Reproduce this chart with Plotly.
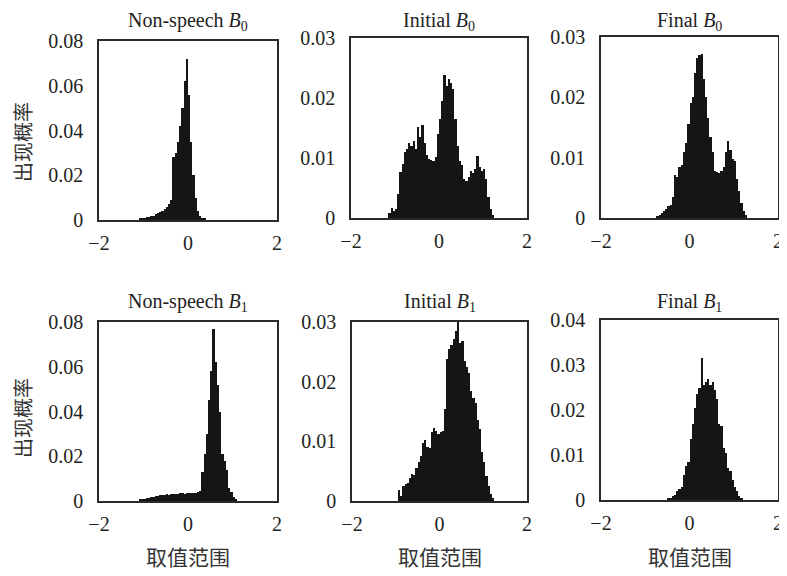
import plotly.graph_objects as go

BIN_WIDTH = 0.05

# Each panel: first bin left edge + probability per 0.05-wide bin
ns_b0_start = -1.10
ns_b0 = [0.0005, 0.0008, 0.001, 0.0012, 0.0015, 0.0018, 0.002, 0.0025, 0.003, 0.0035,
         0.004, 0.005, 0.006, 0.007, 0.009, 0.028, 0.030, 0.035, 0.042, 0.050,
         0.062, 0.072, 0.056, 0.035, 0.020, 0.010, 0.004, 0.002, 0.001, 0.0005]

ini_b0_start = -1.15
ini_b0 = [0.0008, 0.0017, 0.0012, 0.0015, 0.004, 0.0077, 0.009, 0.011, 0.0115, 0.0125,
          0.012, 0.0128, 0.0115, 0.0152, 0.0135, 0.0155, 0.0125, 0.0105, 0.0098, 0.0097,
          0.0095, 0.0102, 0.014, 0.0165, 0.0195, 0.0238, 0.022, 0.0232, 0.0225, 0.0215,
          0.0165, 0.012, 0.0095, 0.0088, 0.0065, 0.0062, 0.0068, 0.0078, 0.0075, 0.0082,
          0.0103, 0.0085, 0.0078, 0.0082, 0.0065, 0.0035, 0.0015, 0.0005]

fin_b0_start = -0.75
fin_b0 = [0.0003, 0.0005, 0.0008, 0.0012, 0.0015, 0.002, 0.0022, 0.0035, 0.0072, 0.0068,
          0.0085, 0.0088, 0.011, 0.0125, 0.0155, 0.019, 0.020, 0.024, 0.0265, 0.027,
          0.0272, 0.023, 0.020, 0.0165, 0.0135, 0.011, 0.0078, 0.0076, 0.0075, 0.0078,
          0.0085, 0.011, 0.0128, 0.0112, 0.0098, 0.0095, 0.0065, 0.0045, 0.0025, 0.0012,
          0.0005]

ns_b1_start = -1.10
ns_b1 = [0.0005, 0.0008, 0.001, 0.0012, 0.0015, 0.0018, 0.002, 0.0022, 0.0024, 0.0026,
         0.0025, 0.0028, 0.003, 0.0028, 0.0031, 0.0032, 0.0033, 0.0031, 0.0034, 0.0035,
         0.0033, 0.0036, 0.0035, 0.0037, 0.0036, 0.0038, 0.004, 0.0045, 0.013, 0.021,
         0.030, 0.045, 0.058, 0.077, 0.062, 0.052, 0.040, 0.021, 0.018, 0.014,
         0.006, 0.004, 0.002, 0.001]

ini_b1_start = -0.95
ini_b1 = [0.0018, 0.0008, 0.0025, 0.0028, 0.003, 0.0038, 0.0045, 0.0044, 0.0055, 0.0065,
          0.0075, 0.0098, 0.0102, 0.009, 0.0088, 0.0115, 0.0122, 0.0118, 0.0112, 0.0115,
          0.0118, 0.0155, 0.0238, 0.0255, 0.0262, 0.0272, 0.0285, 0.0300, 0.0265, 0.0268,
          0.0235, 0.0225, 0.0215, 0.0185, 0.0172, 0.0165, 0.0135, 0.012, 0.0082, 0.0065,
          0.0042, 0.0025, 0.0012, 0.0005]

fin_b1_start = -0.50
fin_b1 = [0.0003, 0.0005, 0.0008, 0.0012, 0.002, 0.0025, 0.003, 0.0055, 0.0075, 0.0085,
          0.0135, 0.017, 0.0205, 0.0235, 0.025, 0.0315, 0.0255, 0.0262, 0.0268, 0.0255,
          0.0262, 0.0245, 0.0225, 0.017, 0.0165, 0.0115, 0.0105, 0.0072, 0.0065, 0.0045,
          0.003, 0.002, 0.001, 0.0005]

titles = ["Non-speech <i>B</i><sub>0</sub>", "Initial <i>B</i><sub>0</sub>", "Final <i>B</i><sub>0</sub>",
          "Non-speech <i>B</i><sub>1</sub>", "Initial <i>B</i><sub>1</sub>", "Final <i>B</i><sub>1</sub>"]
y_max = [0.08, 0.03, 0.03, 0.08, 0.03, 0.04]
y_step = [0.02, 0.01, 0.01, 0.02, 0.01, 0.01]
x_ticks = [-2, 0, 2]
y_label = "出现概率"
x_label = "取值范围"

panels = [(ns_b0_start, ns_b0), (ini_b0_start, ini_b0), (fin_b0_start, fin_b0),
          (ns_b1_start, ns_b1), (ini_b1_start, ini_b1), (fin_b1_start, fin_b1)]

# the page body has an 8px default margin, so the figure is drawn 8px in from the corner
OFF = 8
W, H = 787 - OFF, 576 - OFF
# panel boxes in window pixels: (left, right, top, bottom)
boxes = [(99, 277, 41, 220), (351, 527, 38, 218), (601, 778, 37, 218),
         (99, 277, 322, 501), (352, 527, 322, 501), (601, 778, 320, 500)]
title_y = [22, 22, 22, 302, 302, 302]


def px(v):
    return (v - OFF) / W


def py(v):
    return 1 - (v - OFF) / H


SERIF = "Liberation Serif, Times New Roman, serif"
CJK = "Noto Sans CJK SC"

fig = go.Figure()
layout = dict(width=W, height=H, margin=dict(l=0, r=0, t=0, b=0, pad=0, autoexpand=False),
              paper_bgcolor="white", plot_bgcolor="white", showlegend=False,
              bargap=0, annotations=[])

for i, ((start, vals), (l, r, t, b)) in enumerate(zip(panels, boxes)):
    n = i + 1
    xs = [start + BIN_WIDTH * (k + 0.5) for k in range(len(vals))]
    fig.add_trace(go.Bar(x=xs, y=vals, width=BIN_WIDTH, marker=dict(color="#151515", line=dict(width=0)),
                         xaxis=f"x{n}", yaxis=f"y{n}", hoverinfo="x+y"))
    xa = dict(domain=[px(l), px(r)], range=[-2, 2], tickvals=x_ticks, ticks="",
              showline=True, mirror=True, linecolor="#2a2a2a", linewidth=1.5,
              showgrid=False, zeroline=False, anchor=f"y{n}", automargin=False,
              ticklabeloverflow="allow",
              tickfont=dict(family=SERIF, size=20, color="#222"), ticklabelstandoff=4)
    ya = dict(domain=[py(b), py(t)], range=[0, y_max[i]], dtick=y_step[i], tick0=0,
              ticks="", showline=True, mirror=True, linecolor="#2a2a2a", linewidth=1.5,
              showgrid=False, zeroline=False, anchor=f"x{n}", automargin=False,
              tickfont=dict(family=SERIF, size=20, color="#222"), ticklabelstandoff=10)
    layout[f"xaxis{n}"] = xa
    layout[f"yaxis{n}"] = ya
    layout["annotations"].append(dict(text=titles[i], x=px((l + r) / 2), y=py(title_y[i]),
                                      xref="paper", yref="paper", showarrow=False,
                                      xanchor="center", yanchor="middle",
                                      font=dict(family=SERIF, size=20, color="#222")))

for yc in (142, 418):
    layout["annotations"].append(dict(text=y_label, x=px(22), y=py(yc), xref="paper", yref="paper",
                                      showarrow=False, textangle=-90, xanchor="center", yanchor="middle",
                                      font=dict(family=CJK, size=20, color="#333")))
for (l, r, t, b) in boxes[3:]:
    layout["annotations"].append(dict(text=x_label, x=px((l + r) / 2), y=py(556), xref="paper", yref="paper",
                                      showarrow=False, xanchor="center", yanchor="middle",
                                      font=dict(family=CJK, size=21, color="#333")))

fig.update_layout(**layout)
fig.write_html("out.html")
